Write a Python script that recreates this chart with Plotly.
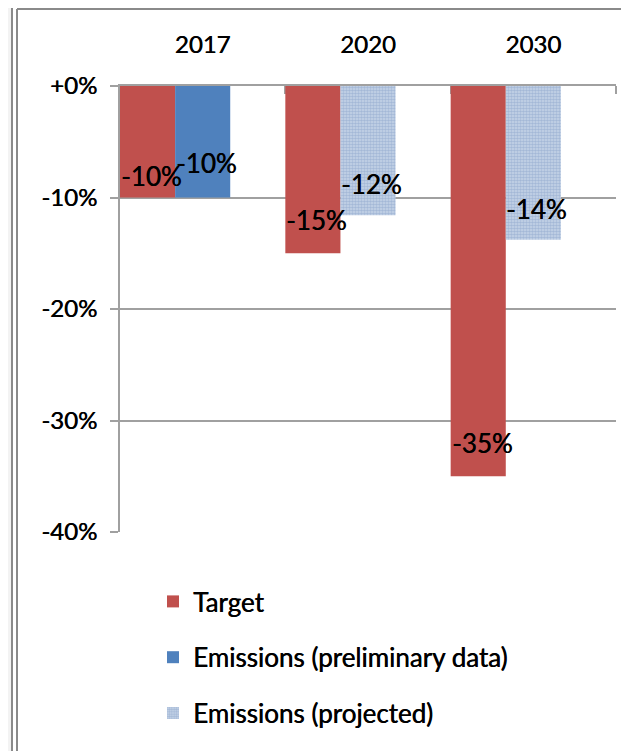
import plotly.graph_objects as go

# ---- data ----
categories = ["2017", "2020", "2030"]
target = [-10, -15, -35]
prelim_years = ["2017"]
prelim = [-10]
projected_years = ["2020", "2030"]
projected = [-11.6, -13.8]
y_tickvals = [0, -10, -20, -30, -40]
y_ticktext = ["+0%", "-10%", "-20%", "-30%", "-40%"]

# ---- styling ----
FONT = "Lato, Open Sans, sans-serif"
TXT = "#000000"
SHADOW = "0.45px 0 0 #000000"
RED = "#c0504d"
BLUE = "#4f81bd"
GRID = "#a0a0a0"
FRAME = "#8a8a8a"
BAR_W = 1 / 3

# page body has an 8px margin: figure is sized to fit the 629x751 window
OFF = 8
FIG_W, FIG_H = 629 - OFF, 751 - OFF
L, T, W, H = 112, 78, 496, 446

def px(page_x):
    return (page_x - OFF - L) / W

def py(page_y):
    return (T + H - (page_y - OFF)) / H

pos = {c: i for i, c in enumerate(categories)}

fig = go.Figure()
fig.add_trace(go.Bar(
    name="Target", x=[pos[c] for c in categories], y=target,
    offset=0, width=BAR_W, marker=dict(color=RED, line=dict(width=0)),
    legendgroup="a",
))
fig.add_trace(go.Bar(
    name="Emissions (preliminary data)", x=[pos[c] for c in prelim_years], y=prelim,
    offset=BAR_W, width=BAR_W, marker=dict(color=BLUE, line=dict(width=0)),
    legendgroup="b",
))
fig.add_trace(go.Bar(
    name="Emissions (projected)", x=[pos[c] for c in projected_years], y=projected,
    offset=BAR_W, width=BAR_W,
    marker=dict(color="#adc1dc", line=dict(width=0),
                pattern=dict(shape=".", fgcolor="#7f9ac4", bgcolor="#c8d6e9",
                             size=3, solidity=0.6)),
    legendgroup="c",
))

# data labels (positioned from data via axis scales)
LBL_FONT = dict(size=26, color=TXT, family=FONT, shadow=SHADOW)
annots = []
label_shift_target = [22, 33, 33]
for c, v, s in zip(categories, target, label_shift_target):
    annots.append(dict(x=pos[c] + BAR_W / 2, y=v, text=f"{v:.0f}%", showarrow=False,
                       yshift=s, xshift=4, font=LBL_FONT))
for c, v in zip(prelim_years, prelim):
    annots.append(dict(x=pos[c] + 1.5 * BAR_W, y=v, text=f"{v:.0f}%", showarrow=False,
                       yshift=35, xshift=4, font=LBL_FONT))
for c, v in zip(projected_years, projected):
    annots.append(dict(x=pos[c] + 1.5 * BAR_W, y=v, text=f"{v:.0f}%", showarrow=False,
                       yshift=31, xshift=3, font=LBL_FONT))

shapes = [
    dict(type="rect", xref="paper", yref="paper", x0=px(0), x1=px(12), y0=py(751), y1=py(0),
         fillcolor="#f3f3f3", line=dict(width=0), layer="below"),
    dict(type="line", xref="paper", yref="paper", x0=px(12), x1=px(12), y0=py(0), y1=py(751),
         line=dict(color=FRAME, width=2)),
    dict(type="line", xref="paper", yref="paper", x0=px(17), x1=px(17), y0=py(9), y1=py(751),
         line=dict(color=FRAME, width=2)),
    dict(type="line", xref="paper", yref="paper", x0=px(17), x1=px(629), y0=py(9), y1=py(9),
         line=dict(color=FRAME, width=2)),
]

fig.update_layout(
    width=FIG_W, height=FIG_H,
    margin=dict(l=L, r=FIG_W - L - W, t=T, b=FIG_H - T - H),
    paper_bgcolor="white", plot_bgcolor="white",
    barmode="overlay",
    font=dict(family=FONT, size=24, color=TXT, shadow=SHADOW),
    showlegend=True,
    legend=dict(x=px(153), y=py(578), xanchor="left", yanchor="top",
                font=dict(size=26, family=FONT, color=TXT, shadow=SHADOW),
                tracegroupgap=19, bgcolor="rgba(0,0,0,0)", borderwidth=0),
    annotations=annots,
    shapes=shapes,
)
fig.update_xaxes(
    range=[0, 3], side="top", layer="below traces",
    tickmode="array", tickvals=[i + 0.5 for i in range(len(categories))], ticktext=categories,
    ticks="", ticklabelstandoff=21,
    showline=True, linecolor=GRID, linewidth=2, showgrid=False, zeroline=False,
    minor=dict(tickmode="array", tickvals=list(range(len(categories) + 1)), ticks="inside",
               ticklen=8, tickcolor=GRID, tickwidth=2, showgrid=False),
    tickfont=dict(size=24, family=FONT, color=TXT, shadow=SHADOW),
)
fig.update_yaxes(
    range=[-40, 0], layer="below traces",
    tickmode="array", tickvals=y_tickvals, ticktext=y_ticktext,
    ticks="outside", ticklen=8, tickcolor=GRID, tickwidth=2, ticklabelstandoff=8,
    showline=True, linecolor=GRID, linewidth=2,
    showgrid=True, gridcolor=GRID, gridwidth=2, zeroline=False,
    tickfont=dict(size=24, family=FONT, color=TXT, shadow=SHADOW),
)

fig.write_html("out.html")
